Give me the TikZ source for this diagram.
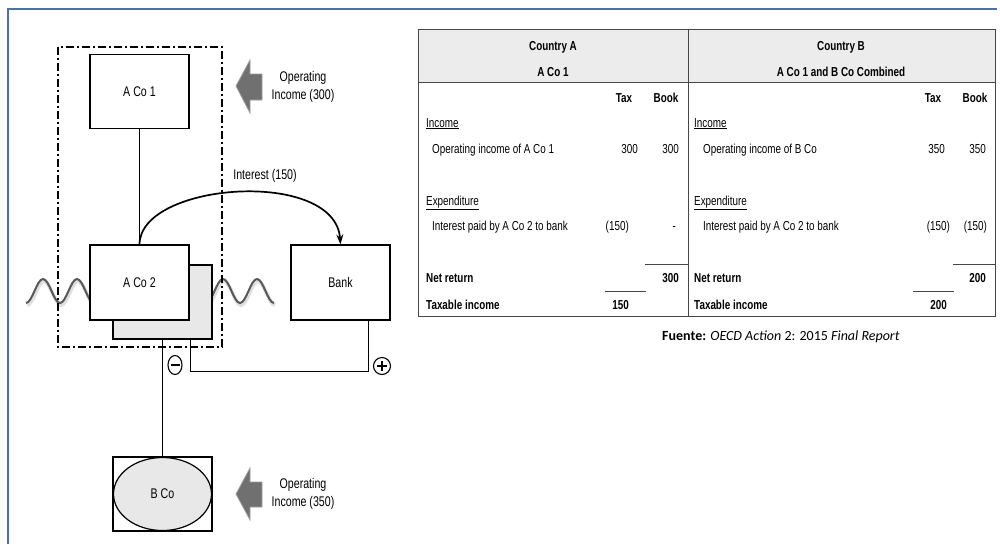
\documentclass[tikz,border=0pt]{standalone}
\usepackage{fontspec}
\setmainfont{Liberation Sans}
\newfontfamily\narrow[FakeStretch=0.76]{Liberation Sans}
\newfontfamily\calibri{Carlito}
\usetikzlibrary{arrows.meta,shapes.geometric,calc}
\definecolor{framecol}{RGB}{79,113,168}
\definecolor{arrowgray}{RGB}{112,112,112}
\definecolor{arrowedge}{RGB}{160,160,160}
\definecolor{lightfill}{RGB}{232,232,232}
\definecolor{headgray}{RGB}{236,236,236}
\definecolor{tablecol}{RGB}{70,70,70}
\begin{document}
\begin{tikzpicture}[x=1pt,y=-1pt,
  box/.style={draw,line width=1.2pt,fill=white,minimum width=99pt,minimum height=74pt,inner sep=0pt,font=\narrow\fontsize{14}{16}\selectfont},
  lbl/.style={font=\narrow\fontsize{14}{18}\selectfont,align=center,inner sep=0pt},
  tt/.style={font=\narrow\fontsize{13}{15}\selectfont,inner sep=0pt,anchor=base west},
  tr/.style={tt,anchor=base east},
  tc/.style={tt,anchor=base},
  conn/.style={line width=1.1pt},
  waveshadow/.style={line width=3.8pt,gray!25},
  wave/.style={line width=2pt,gray!70!black},
  garrow/.style={fill=arrowgray,draw=arrowedge,line width=0.8pt},
  sign/.style={draw,line width=1.1pt,inner sep=0pt},
  tline/.style={draw=tablecol,line width=1pt},
  rule/.style={line width=1pt,tablecol}
]
\useasboundingbox (0,0) rectangle (1000,544);
\fill[white] (0,0) rectangle (1000,544);
\draw[framecol,line width=2pt] (8,544) -- (8,9) -- (997,9);

% waves
\draw[waveshadow] (27,305) cos (35.5,293) sin (44,281) cos (52.5,293) sin (61,305) cos (69.5,293) sin (78,281) cos (86.5,293) sin (95,305);
\draw[wave] (26,303) cos (34.5,291) sin (43,279) cos (51.5,291) sin (60,303) cos (68.5,291) sin (77,279) cos (85.5,291) sin (94,303);
\draw[waveshadow] (207,305) cos (215.5,293) sin (224,281) cos (232.5,293) sin (241,305) cos (249.5,293) sin (258,281) cos (266.5,293) sin (275,305);
\draw[wave] (206,303) cos (214.5,291) sin (223,279) cos (231.5,291) sin (240,303) cos (248.5,291) sin (257,279) cos (265.5,291) sin (274,303);

% dash-dot group rectangle
\draw[line width=2.2pt,dash pattern=on 8pt off 3pt on 2pt off 3pt] (58,47) rectangle (222,347);

% boxes
\node[box,fill=lightfill,minimum height=74pt] (gbox) at (162.5,302) {};
\node[box] (aco1) at (139.5,91.5) {A Co 1};
\node[box,minimum height=75pt] (aco2) at (139.5,282.5) {A Co 2};
\node[box,minimum height=75pt] (bank) at (340.5,282.5) {Bank};
\node[box] (bco) at (162.5,494) {};
\node[draw,ellipse,line width=1.2pt,fill=lightfill,minimum width=98pt,minimum height=73pt,inner sep=0pt,font=\narrow\fontsize{14}{16}\selectfont] (bell) at (bco.center) {B Co};

% connectors
\draw[conn] (aco1.south) -- (aco2.north);
\draw[line width=1.7pt,-{Stealth[length=10pt,width=7pt]}] (aco2.north) .. controls (140,182) and (335,168) .. (bank.north);
\draw[conn] (gbox.south) -- (bco.north);
\draw[conn] ($(gbox.south east)+(-22,0)$) -- ++(0,32) -| ($(bank.south east)+(-22,0)$);

% signs
\node[sign,ellipse,minimum width=14pt,minimum height=19pt] (minus) at (175,365) {};
\draw[line width=1.1pt] ($(minus.center)+(-4.5,0)$) -- ($(minus.center)+(4.5,0)$);
\node[sign,circle,minimum size=17pt] (plus) at (382,366) {};
\draw[line width=1.1pt] ($(plus.center)+(-5,0)$) -- ($(plus.center)+(5,0)$);
\draw[line width=1.1pt] ($(plus.center)+(0,-5)$) -- ($(plus.center)+(0,5)$);

% labels
\node[lbl] (interest) at (265,176) {Interest (150)};
\node[lbl] (opA) at (303,87) {Operating\\Income (300)};
\node[lbl] (opB) at (303,494) {Operating\\Income (350)};

% block arrows
\path[garrow,shift={(236,86)}] (0,0) -- (14,-26) -- (14,-12) -- (26,-12) -- (26,14) -- (14,14) -- (14,27) -- cycle;
\path[garrow,shift={(236,494)}] (0,0) -- (14,-26) -- (14,-12) -- (26,-12) -- (26,13) -- (14,13) -- (14,26) -- cycle;

% table frame
\fill[headgray] (418,29) rectangle (995,82);
\draw[tline] (418,29) rectangle (995,316);
\draw[tline] (418,82) -- (995,82);
\draw[tline] (688,29) -- (688,316);

% Country A
\node[tc] (hA1) at (553,50) {\bfseries Country A};
\node[tc] (hA2) at (553,76) {\bfseries A Co 1};
\node[tc] (taxA) at (624,102) {\bfseries Tax};
\node[tc] (bookA) at (666,102) {\bfseries Book};
\node[tt] (incA) at (426,127) {\underline{Income}};
\node[tt] (opincA) at (432,153) {Operating income of A Co 1};
\node[tr] (opA1) at (638,153) {300};
\node[tr] (opA2) at (679,153) {300};
\node[tt] (expA) at (426,205) {\underline{Expenditure}};
\node[tt] (intA) at (432,230) {Interest paid by A Co 2 to bank};
\node[tr] (intA1) at (629,230) {(150)};
\node[tr] (intA2) at (676,230) {-};
\draw[rule] (645,264) -- (688,264);
\node[tt] (netA) at (426,282) {\bfseries Net return};
\node[tr] (netA2) at (679,282) {\bfseries 300};
\draw[rule] (605,291) -- (646,291);
\node[tt] (taxiA) at (426,309) {\bfseries Taxable income};
\node[tr] (taxiA1) at (629,309) {\bfseries 150};

% Country B
\node[tc] (hB1) at (841,50) {\bfseries Country B};
\node[tc] (hB2) at (841,76) {\bfseries A Co 1 and B Co Combined};
\node[tc] (taxB) at (933,102) {\bfseries Tax};
\node[tc] (bookB) at (975,102) {\bfseries Book};
\node[tt] (incB) at (694,127) {\underline{Income}};
\node[tt] (opincB) at (703,153) {Operating income of B Co};
\node[tr] (opB1) at (945,153) {350};
\node[tr] (opB2) at (986,153) {350};
\node[tt] (expB) at (694,205) {\underline{Expenditure}};
\node[tt] (intB) at (703,230) {Interest paid by A Co 2 to bank};
\node[tr] (intB1) at (950,230) {(150)};
\node[tr] (intB2) at (987,230) {(150)};
\draw[rule] (953,264) -- (995,264);
\node[tt] (netB) at (694,282) {\bfseries Net return};
\node[tr] (netB2) at (986,282) {\bfseries 200};
\draw[rule] (913,291) -- (954,291);
\node[tt] (taxiB) at (694,309) {\bfseries Taxable income};
\node[tr] (taxiB1) at (947,309) {\bfseries 200};

% source
\node[anchor=base west,inner sep=0pt,font=\calibri\fontsize{14}{16}\selectfont] (src) at (662,340) {\textbf{Fuente:} \textit{OECD Action} 2: 2015 \textit{Final Report}};
\end{tikzpicture}
\end{document}
